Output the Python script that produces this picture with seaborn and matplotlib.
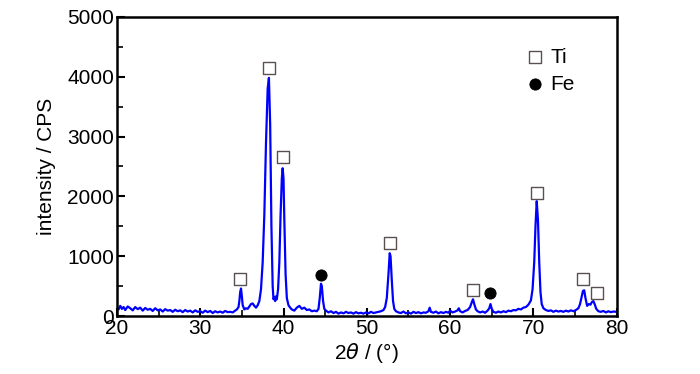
import numpy as np
import pandas as pd
import matplotlib
matplotlib.use("Agg")
import matplotlib.pyplot as plt
import seaborn as sns

# XRD trace (2theta in degrees, intensity in CPS)
two_theta = [20.0, 20.2, 20.4, 20.6, 20.8, 21.0, 21.3, 21.6, 21.9, 22.2, 22.5, 22.8, 23.1, 23.4,
             23.7, 24.0, 24.3, 24.6, 24.9, 25.2, 25.5, 25.8, 26.1, 26.4, 26.7, 27.0, 27.3, 27.6,
             27.9, 28.2, 28.5, 28.8, 29.1, 29.4, 29.7, 30.0, 30.3, 30.6, 30.9, 31.2, 31.5, 31.8,
             32.1, 32.4, 32.7, 33.0, 33.3, 33.6, 33.9, 34.2, 34.4,
             34.6, 34.7, 34.8, 34.9, 35.0, 35.1, 35.3, 35.5, 35.7, 35.9, 36.1, 36.3, 36.5, 36.7,
             36.9, 37.1, 37.3, 37.5, 37.7, 37.9, 38.1, 38.25, 38.4, 38.55, 38.7, 38.8, 38.9, 39.0,
             39.1, 39.2, 39.35, 39.5, 39.65, 39.8, 39.9, 40.0, 40.1, 40.25, 40.4, 40.6, 40.8, 41.0,
             41.3, 41.6, 41.9, 42.2, 42.5, 42.8, 43.1, 43.4, 43.7, 44.0, 44.2, 44.35, 44.5, 44.6,
             44.75, 44.9, 45.1, 45.4, 45.7, 46.0, 46.3, 46.6, 46.9, 47.2, 47.5, 47.8, 48.1, 48.4,
             48.7, 49.0, 49.3, 49.6, 49.9, 50.2, 50.5, 50.8, 51.1, 51.4, 51.7, 52.0, 52.2, 52.4,
             52.6, 52.75, 52.85, 53.0, 53.15, 53.3, 53.5, 53.8, 54.1, 54.4, 54.7, 55.0, 55.3, 55.6,
             55.9, 56.2, 56.5, 56.8, 57.1, 57.4, 57.55, 57.7, 58.0, 58.3, 58.6, 58.9, 59.2, 59.5,
             59.8, 60.0, 60.3, 60.6, 60.9, 61.05, 61.2, 61.5, 61.8, 62.1, 62.4, 62.6, 62.75, 62.9,
             63.1, 63.3, 63.6, 63.9, 64.2, 64.5, 64.7, 64.85, 65.0, 65.2, 65.5, 65.8, 66.1, 66.4,
             66.7, 67.0, 67.3, 67.6, 67.9, 68.2, 68.5, 68.8, 69.1, 69.4, 69.7, 69.9, 70.1, 70.25,
             70.4, 70.55, 70.7, 70.85, 71.0, 71.2, 71.5, 71.8, 72.1, 72.4, 72.7, 73.0, 73.3, 73.6,
             73.9, 74.2, 74.5, 74.8, 75.1, 75.4, 75.6, 75.8, 75.95, 76.1, 76.25, 76.45, 76.65,
             76.85, 77.0, 77.2, 77.35, 77.55, 77.8, 78.1, 78.4, 78.7, 79.0, 79.3, 79.6, 80.0]
intensity = [140, 110, 170, 120, 150, 100, 160, 130, 95, 150, 115, 140, 90, 135,
             105, 120, 85, 130, 95, 110, 75, 115, 90, 100, 70, 105, 80, 95,
             65, 100, 75, 90, 60, 95, 70, 80, 55, 90, 65, 85, 50, 80,
             60, 75, 55, 85, 65, 70, 60, 90, 110,
             150, 250, 400, 460, 330, 180, 110, 130, 120, 160, 200, 210, 170, 140,
             180, 250, 450, 900, 1700, 2900, 3800, 3980, 3200, 1500, 500, 280, 320, 250,
             330, 280, 450, 900, 1700, 2300, 2470, 2300, 1600, 700, 300, 180, 140, 110,
             90, 140, 170, 120, 140, 100, 110, 80, 90, 80, 120, 300, 540, 500,
             250, 120, 90, 60, 80, 50, 70, 40, 60, 45, 70, 50, 60, 40,
             65, 45, 55, 40, 60, 45, 70, 50, 60, 70, 80, 100, 150, 300,
             700, 1050, 1000, 600, 250, 120, 80, 60, 50, 75, 45, 60, 40, 70,
             50, 65, 45, 60, 55, 80, 140, 70, 55, 75, 45, 65, 50, 70,
             55, 90, 60, 75, 95, 130, 80, 60, 85, 100, 150, 230, 280, 200,
             110, 80, 60, 75, 55, 90, 130, 200, 120, 70, 55, 75, 60, 80,
             65, 90, 80, 100, 95, 120, 110, 140, 150, 190, 260, 450, 900, 1500,
             1920, 1600, 900, 400, 200, 130, 100, 85, 95, 70, 90, 75, 85, 70,
             90, 75, 95, 80, 100, 130, 200, 330, 420, 430, 300, 170, 200,
             190, 230, 250, 200, 120, 80, 70, 85, 60, 80, 65, 75, 70]

# phase markers
ti_pos = [34.8, 38.2, 39.9, 52.8, 62.7, 70.4, 76.0, 77.6]
ti_int = [615, 4150, 2650, 1220, 440, 2060, 620, 380]
fe_pos = [44.5, 64.8]
fe_int = [690, 390]

sns.set_style("ticks")
plt.rcParams["font.family"] = ["Liberation Sans", "DejaVu Sans"]
plt.rcParams["xtick.direction"] = "in"
plt.rcParams["ytick.direction"] = "in"
plt.rcParams["text.color"] = "black"
plt.rcParams["axes.labelcolor"] = "black"
plt.rcParams["xtick.color"] = "black"
plt.rcParams["ytick.color"] = "black"

fig = plt.figure(figsize=(7, 3.74), dpi=100)
ax = fig.add_axes([0.167, 0.155, 0.714, 0.80])

trace = pd.DataFrame({"2theta": two_theta, "I": intensity})
sns.lineplot(data=trace, x="2theta", y="I", color="#0000ff", lw=1.6, ax=ax)

sns.scatterplot(x=ti_pos, y=ti_int, marker="s", s=72, facecolor="white",
                edgecolor="#5a5050", linewidth=1.0, label="Ti", ax=ax, zorder=3)
sns.scatterplot(x=fe_pos, y=fe_int, marker="o", s=65, color="black",
                edgecolor="black", label="Fe", ax=ax, zorder=3)

ax.set_xlim(20, 80)
ax.set_ylim(0, 5000)
ax.set_xticks([20, 30, 40, 50, 60, 70, 80])
ax.set_xticks([25, 35, 45, 55, 65, 75], minor=True)
ax.set_yticks([0, 1000, 2000, 3000, 4000, 5000])
ax.set_yticks([500, 1500, 2500, 3500, 4500], minor=True)
ax.tick_params(which="major", length=6, width=1.5, labelsize=15, pad=2)
ax.tick_params(which="minor", length=4, width=1.2)
for sp in ax.spines.values():
    sp.set_linewidth(1.8)
    sp.set_color("black")

ax.set_xlabel(r"2$\theta$ / (°)", fontsize=15, labelpad=2)
ax.set_ylabel("intensity / CPS", fontsize=15, labelpad=8)

ax.legend(loc="upper left", bbox_to_anchor=(0.80, 0.925), frameon=False, fontsize=15,
          handletextpad=0.2, labelspacing=0.4, borderaxespad=0, handlelength=1.0)

fig.savefig("out.png", dpi=100)
